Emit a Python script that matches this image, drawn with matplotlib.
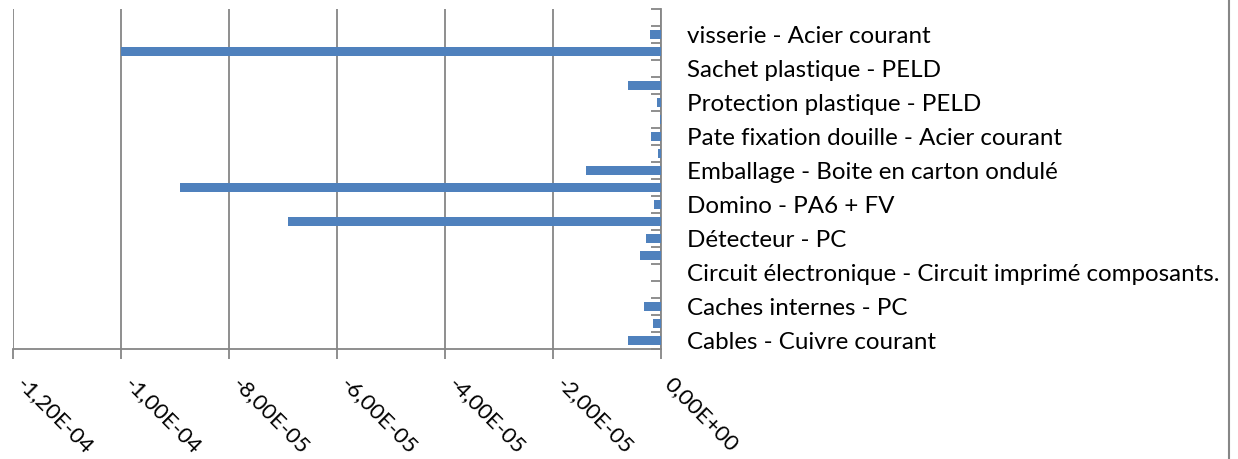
import matplotlib
matplotlib.use("Agg")
import matplotlib.pyplot as plt
from matplotlib.ticker import FuncFormatter, FixedLocator
from matplotlib.lines import Line2D

# categories from bottom to top; unlabeled ones are skipped by the axis
categories = [
    "Cables - Cuivre courant", "",
    "Caches internes - PC", "",
    "Circuit électronique - Circuit imprimé composants.", "",
    "Détecteur - PC", "",
    "Domino - PA6 + FV", "",
    "Emballage - Boite en carton ondulé", "",
    "Pate fixation douille - Acier courant", "",
    "Protection plastique - PELD", "",
    "Sachet plastique - PELD", "",
    "visserie - Acier courant", "",
]
values = [
    -6.1e-6, -1.5e-6,
    -3.1e-6, 0.0,
    0.0, -3.9e-6,
    -2.8e-6, -6.9e-5,
    -1.3e-6, -8.9e-5,
    -1.39e-5, -0.6e-6,
    -1.8e-6, -0.15e-6,
    -0.7e-6, -6.1e-6,
    0.0, -1.0e-4,
    -2.0e-6, 0.0,
]
xticks = [-1.2e-4, -1.0e-4, -8e-5, -6e-5, -4e-5, -2e-5, 0.0]

plt.rcParams["font.family"] = ["Lato", "DejaVu Sans"]
grey = "#868686"

fig = plt.figure(figsize=(12.38, 4.59), dpi=100)
ax = fig.add_axes([13 / 1238, 1 - 349 / 459, (661 - 13) / 1238, 340 / 459])

pos = list(range(1, len(categories) + 1))
ax.barh(pos, values, height=0.5, color="#4F81BD", zorder=3)

ax.set_xlim(-1.2e-4, 0)
ax.set_ylim(0.5, len(categories) + 0.5)

ax.xaxis.set_major_locator(FixedLocator(xticks))
ax.xaxis.set_major_formatter(FuncFormatter(lambda v, p: f"{v:.2E}".replace(".", ",")))
ax.grid(axis="x", color=grey, linewidth=1.3, zorder=0)
ax.tick_params(axis="x", direction="out", length=7, width=1.3, color=grey,
               labelsize=16, pad=11)
for lab in ax.get_xticklabels():
    lab.set_rotation(-45)
    lab.set_ha("left")
    lab.set_va("top")

ax.yaxis.tick_right()
ax.set_yticks(pos)
ax.set_yticklabels(categories)
ax.set_yticks([p + 0.5 for p in range(0, len(categories) + 1)], minor=True)
ax.tick_params(axis="y", which="major", length=0, pad=19, labelsize=17.4)
ax.tick_params(axis="y", which="minor", direction="in", length=7, width=1.3,
               color=grey, right=True, left=False)

for s in ["top", "left"]:
    ax.spines[s].set_visible(False)
for s in ["bottom", "right"]:
    ax.spines[s].set_color(grey)
    ax.spines[s].set_linewidth(1.3)

fig.add_artist(Line2D([1229 / 1238, 1229 / 1238], [0, 1], color=grey,
                      linewidth=1.5, transform=fig.transFigure))

fig.savefig("out.png", dpi=100)
